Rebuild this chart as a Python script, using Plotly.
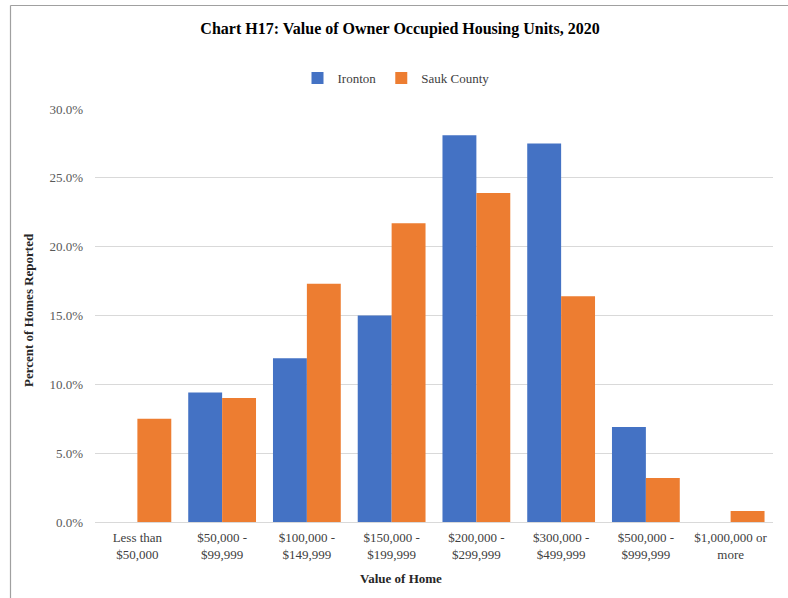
import plotly.graph_objects as go

categories = ["Less than<br>$50,000", "$50,000 -<br>$99,999", "$100,000 -<br>$149,999",
              "$150,000 -<br>$199,999", "$200,000 -<br>$299,999", "$300,000 -<br>$499,999",
              "$500,000 -<br>$999,999", "$1,000,000 or<br>more"]
ironton = [0.0, 0.094, 0.119, 0.150, 0.281, 0.275, 0.069, 0.0]
sauk = [0.075, 0.090, 0.173, 0.217, 0.239, 0.164, 0.032, 0.008]
y_ticks = [0, 0.05, 0.10, 0.15, 0.20, 0.25, 0.30]

W, H = 788, 598
L, R, T, B = 95, 15, 109, 76
pw, ph = W - L - R, H - T - B

def px_x(p):
    return (p - L) / pw

def px_y(p):
    return (H - B - p) / ph

FONT = "Liberation Serif"

fig = go.Figure()
fig.add_trace(go.Bar(x=categories, y=ironton, name="Ironton", marker_color="#4472C4",
                     marker_line_width=0))
fig.add_trace(go.Bar(x=categories, y=sauk, name="Sauk County", marker_color="#ED7D31",
                     marker_line_width=0))

fig.update_layout(
    width=W, height=H,
    margin=dict(l=L, r=R, t=T, b=B),
    paper_bgcolor="white", plot_bgcolor="white",
    barmode="group", bargap=0.2, bargroupgap=0,
    font=dict(family=FONT, color="#595959", size=13),
    title=dict(text="<b>Chart H17: Value of Owner Occupied Housing Units, 2020</b>",
               x=400 / W, xanchor="center", y=1 - 28 / H, yanchor="middle",
               font=dict(family=FONT, size=16, color="black")),
    legend=dict(orientation="h", x=px_x(396), xanchor="center", y=px_y(78), yanchor="middle",
                font=dict(family=FONT, size=13, color="#404040"), itemwidth=30,
                traceorder="normal", bgcolor="rgba(0,0,0,0)"),
    showlegend=True,
)
fig.update_xaxes(showgrid=False, showline=False, ticks="", ticklabelstandoff=6,
                 tickfont=dict(size=13, color="#404040"))
fig.update_yaxes(range=[0, 0.30], tickvals=y_ticks, tickformat=".1%",
                 showgrid=True, gridcolor="#D9D9D9", gridwidth=1, zeroline=True,
                 zerolinecolor="#D9D9D9", zerolinewidth=1, showline=False, ticks="",
                 ticklabelstandoff=11, tickfont=dict(size=13, color="#595959"))

# axis titles
fig.add_annotation(text="<b>Value of Home</b>", xref="paper", yref="paper",
                   x=px_x(401), y=px_y(578), xanchor="center", yanchor="middle", showarrow=False,
                   font=dict(family=FONT, size=13, color="#262626"))
fig.add_annotation(text="<b>Percent of Homes Reported</b>", xref="paper", yref="paper",
                   x=px_x(28), y=px_y(310), xanchor="center", yanchor="middle", showarrow=False,
                   textangle=-90, font=dict(family=FONT, size=13, color="#262626"))

# outer chart border (top and left edges visible)
fig.add_shape(type="line", xref="paper", yref="paper",
              x0=px_x(10.5), x1=px_x(W + 5), y0=px_y(5.5), y1=px_y(5.5),
              line=dict(color="#A0A0A0", width=1.2))
fig.add_shape(type="line", xref="paper", yref="paper",
              x0=px_x(10.5), x1=px_x(10.5), y0=px_y(5.5), y1=px_y(H + 5),
              line=dict(color="#A0A0A0", width=1.2))

fig.write_html("out.html", config={"displayModeBar": False},
               post_script="document.body.style.margin='0';document.body.style.overflow='hidden';")
